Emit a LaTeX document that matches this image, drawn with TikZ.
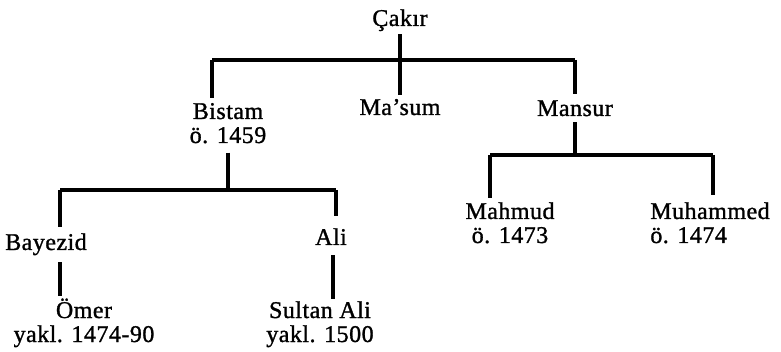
\documentclass[tikz,border=0pt]{standalone}
\usepackage{fontspec}
\setmainfont{Liberation Serif}
\newcommand\namefont{\fontsize{24}{24}\selectfont\addfontfeature{LetterSpace=2,FakeBold=1.2}}

\begin{document}
\begin{tikzpicture}[x=1pt, y=-1pt]

	\useasboundingbox (0,0) rectangle (781,352);

	%% The people of the family tree (base = baseline of the last line)
	\begin{scope}[every node/.style={inner sep=0pt, align=center, anchor=base, font=\namefont}]
		\node at (400,26) (cakir) {Çakır};
		\node at (228,143) (bistam) {Bistam\\ö. 1459};
		\node at (400,115) (masum) {Ma'sum};
		\node at (575,116) (mansur) {Mansur};
		\node at (46,250) (bayezid) {Bayezid};
		\node at (331,245) (ali) {Ali};
		\node at (84,342) (omer) {Ömer\\yakl. 1474-90};
		\node at (320,342) (sultanali) {Sultan Ali\\yakl. 1500};
		\node at (510,243) (mahmud) {Mahmud\\ö. 1473};
		\node at (710,243) [align=left] (muhammed) {Muhammed\\ö. 1474};
	\end{scope}

	%% The ends of the three bars
	\coordinate (bar1L) at (212,60);
	\coordinate (bar1R) at (575,60);
	\coordinate (bar2L) at (60,190);
	\coordinate (bar2R) at (336,190);
	\coordinate (bar3L) at (490,155);
	\coordinate (bar3R) at (713,155);

	\begin{scope}[line width=3.2pt]
		%% Cakir and his sons
		\draw ([yshift=-3pt]cakir.south) -- (cakir |- bar1L);
		\draw (bar1L) -- (bar1R);
		\draw[shorten >=5pt] (bar1L) -- (bar1L |- bistam.north);
		\draw[shorten >=4pt] (cakir |- bar1L) -- (cakir |- masum.north);
		\draw[shorten >=6pt] (bar1R) -- (bar1R |- mansur.north);

		%% The line of Bistam
		\draw[shorten <=9pt] (bistam.south) -- (bistam |- bar2L);
		\draw (bar2L) -- (bar2R);
		\draw[shorten >=6pt] (bar2L) -- (bar2L |- bayezid.north);
		\draw[shorten >=12pt] (bar2R) -- (bar2R |- ali.north);
		\draw[shorten <=7pt, shorten >=2pt] (bar2L |- bayezid.south) -- (bar2L |- omer.north);
		\draw[shorten <=10pt, shorten >=2pt] ([xshift=-3pt]bar2R |- ali.south) -- ([xshift=-3pt]bar2R |- sultanali.north);

		%% The line of Mansur
		\draw[shorten <=6pt] (mansur.south) -- (mansur |- bar3L);
		\draw (bar3L) -- (bar3R);
		\draw[shorten >=4pt] (bar3L) -- (bar3L |- mahmud.north);
		\draw[shorten >=7pt] (bar3R) -- (bar3R |- muhammed.north);
	\end{scope}

\end{tikzpicture}
\end{document}
